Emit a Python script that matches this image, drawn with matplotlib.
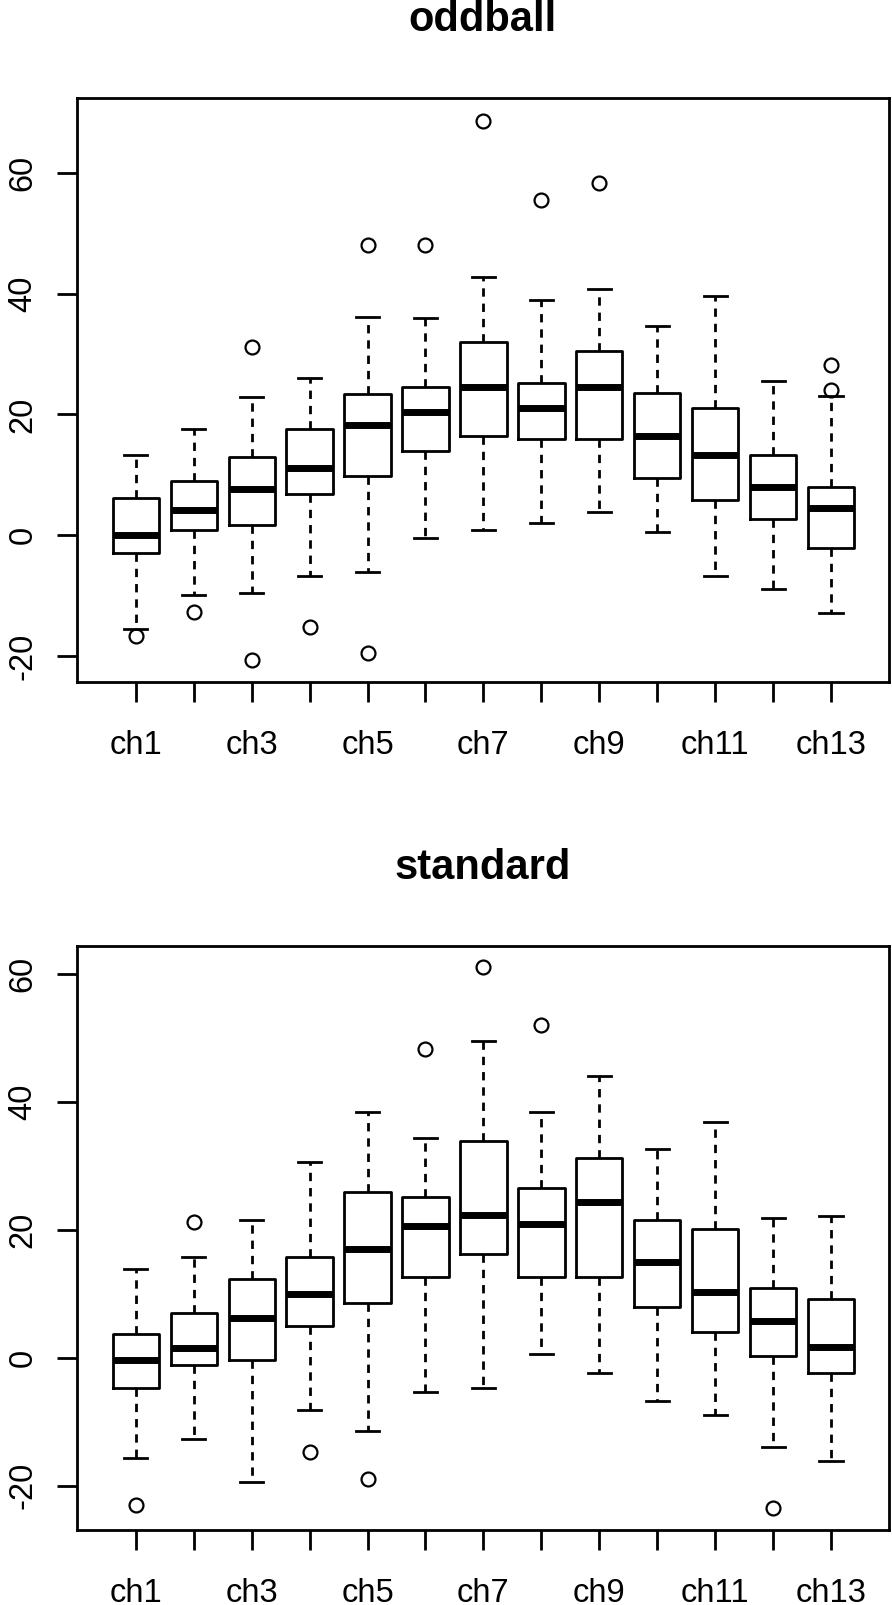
import matplotlib
matplotlib.use("Agg")
import matplotlib.pyplot as plt

plt.rcParams['font.family'] = ['Liberation Sans', 'DejaVu Sans']
plt.rcParams['lines.scale_dashes'] = False

channels = ["ch%d" % i for i in range(1, 14)]

# oddball condition: box statistics
odd_whishi = [13.35, 17.5, 22.8, 26.0, 36.1, 35.9, 42.8, 38.9, 40.7, 34.7, 39.6, 25.6, 23.1]
odd_q3     = [6.2, 9.0, 12.9, 17.5, 23.4, 24.6, 32.0, 25.2, 30.5, 23.5, 21.0, 13.3, 8.0]
odd_med    = [0.0, 4.1, 7.7, 11.2, 18.2, 20.4, 24.5, 21.0, 24.5, 16.5, 13.3, 8.0, 4.5]
odd_q1     = [-3.0, 0.9, 1.7, 6.9, 9.8, 14.0, 16.4, 16.0, 16.0, 9.4, 5.9, 2.7, -2.2]
odd_whislo = [-15.6, -9.9, -9.6, -6.8, -6.1, -0.5, 0.9, 2.0, 3.8, 0.6, -6.8, -8.9, -12.8]
odd_fliers = [[-16.7], [-12.7], [31.2, -20.6], [-15.2], [48.1, -19.5], [48.1],
              [68.5], [55.5], [58.3], [], [], [], [28.1, 24.0]]

# standard condition
std_whishi = [13.9, 15.7, 21.5, 30.7, 38.4, 34.3, 49.6, 38.4, 44.0, 32.6, 36.9, 21.9, 22.2]
std_q3     = [3.7, 7.0, 12.3, 15.7, 25.9, 25.2, 33.9, 26.6, 31.2, 21.6, 20.2, 10.9, 9.2]
std_med    = [-0.3, 1.6, 6.3, 10.0, 17.0, 20.6, 22.3, 21.0, 24.3, 15.0, 10.3, 5.7, 1.7]
std_q1     = [-4.7, -1.1, -0.3, 5.0, 8.6, 12.6, 16.3, 12.6, 12.6, 8.0, 4.0, 0.3, -2.4]
std_whislo = [-15.7, -12.7, -19.4, -8.1, -11.4, -5.4, -4.7, 0.6, -2.4, -6.7, -9.0, -14.0, -16.1]
std_fliers = [[-23.0], [21.3], [], [-14.7], [-19.0], [48.3], [61.1], [52.0], [], [], [], [-23.4], []]

yticks = [-20, 0, 20, 40, 60]

LW = 2.0
fig = plt.figure(figsize=(8.92, 16.05), dpi=100)
ax_top = fig.add_axes([0.086, 0.5751, 0.9106, 0.3639])
ax_bot = fig.add_axes([0.086, 0.04673, 0.9106, 0.3639])


def make_stats(lo, q1, med, q3, hi, fl):
    stats = []
    for i in range(len(med)):
        stats.append(dict(whislo=lo[i], q1=q1[i], med=med[i], q3=q3[i],
                          whishi=hi[i], fliers=fl[i], label=channels[i]))
    return stats


def draw(ax, stats, title, ylim):
    positions = list(range(1, len(stats) + 1))
    ax.bxp(stats, positions=positions, widths=0.8, showfliers=True,
           boxprops=dict(color='black', linewidth=LW),
           whiskerprops=dict(color='black', linewidth=LW, linestyle=(0, (6, 5))),
           capprops=dict(color='black', linewidth=LW),
           medianprops=dict(color='black', linewidth=5.0, solid_capstyle='butt'),
           flierprops=dict(marker='o', markerfacecolor='none', markeredgecolor='black',
                           markersize=10, markeredgewidth=1.6, linestyle='none'))
    ax.set_xlim(-0.02, 14.0)
    ax.set_ylim(*ylim)
    ax.set_xticks(positions)
    ax.set_xticklabels([c if (i % 2 == 0) else '' for i, c in enumerate(channels)])
    ax.set_yticks(yticks)
    ax.set_yticklabels([str(v) for v in yticks])
    ax.tick_params(axis='both', length=14.4, width=LW, labelsize=23.5, color='black')
    ax.tick_params(axis='x', pad=20)
    ax.tick_params(axis='y', pad=13, labelrotation=90)
    for lab in ax.get_yticklabels():
        lab.set_va('center')
    for sp in ax.spines.values():
        sp.set_linewidth(LW)
    ax.set_title(title, fontsize=30, fontweight='bold', pad=48)


draw(ax_top, make_stats(odd_whislo, odd_q1, odd_med, odd_q3, odd_whishi, odd_fliers),
     'oddball', (-24.3, 72.4))
draw(ax_bot, make_stats(std_whislo, std_q1, std_med, std_q3, std_whishi, std_fliers),
     'standard', (-26.9, 64.4))

fig.savefig('out.png', dpi=100)
